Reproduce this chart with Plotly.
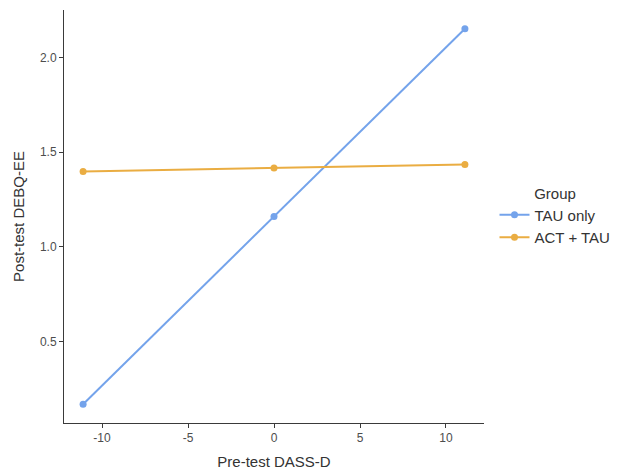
import plotly.graph_objects as go

x_vals = [-11.1, 0.0, 11.1]
tau_only = [0.167, 1.160, 2.153]
act_tau = [1.398, 1.416, 1.435]
group_names = ["TAU only", "ACT + TAU"]
colors = ["#74A3EB", "#EAAD42"]
x_ticks = [-10, -5, 0, 5, 10]
x_tick_labels = ["-10", "-5", "0", "5", "10"]
y_ticks = [0.5, 1.0, 1.5, 2.0]
y_tick_labels = ["0.5", "1.0", "1.5", "2.0"]

fig = go.Figure()
for name, ys, c in zip(group_names, [tau_only, act_tau], colors):
    fig.add_trace(go.Scatter(
        x=x_vals, y=ys, mode="lines+markers", name=name,
        line=dict(color=c, width=2), marker=dict(color=c, size=7),
    ))

axis_common = dict(
    showgrid=False, zeroline=False, showline=True, linecolor="#3a3a3a", linewidth=1,
    ticks="outside", tickcolor="#3a3a3a", ticklen=4, automargin=False,
    tickfont=dict(family="Liberation Sans, Arial", size=12, color="#4d4d4d"),
)
fig.update_layout(
    width=614, height=468,
    margin=dict(l=56, r=138, t=2, b=53),
    plot_bgcolor="white", paper_bgcolor="white",
    font=dict(family="Liberation Sans, Arial", color="#333333"),
    xaxis=dict(range=[-12.21, 12.21], tickvals=x_ticks, ticktext=x_tick_labels,
               title=dict(text="Pre-test DASS-D", font=dict(size=15, color="#333333"), standoff=12),
               **axis_common),
    yaxis=dict(range=[0.068, 2.252], tickvals=y_ticks, ticktext=y_tick_labels,
               title=dict(text="Post-test DEBQ-EE", font=dict(size=15, color="#333333"), standoff=11),
               **axis_common),
    legend=dict(title=dict(text="Group", side="top center", font=dict(size=15, color="#333333")),
                font=dict(size=15, color="#333333"),
                x=1.025, y=0.5, xanchor="left", yanchor="middle",
                bgcolor="rgba(0,0,0,0)"),
)
fig.write_html("out.html")
